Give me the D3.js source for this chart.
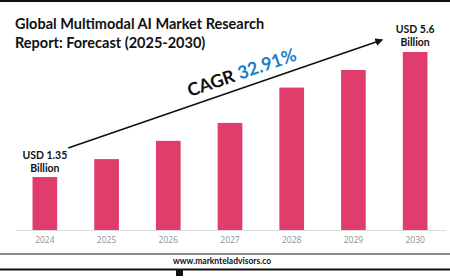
<!DOCTYPE html>
<html>
<head>
<meta charset="utf-8">
<script src="https://cdn.jsdelivr.net/npm/d3@7"></script>
<style>
  body { margin: 0; background: #fff; }
  svg { display: block; }
</style>
</head>
<body>
<div id="chart"></div>
<script>
// chart data
var years = ["2024", "2025", "2026", "2027", "2028", "2029", "2030"];
var marketSize = [1.35, 1.96, 2.58, 3.19, 4.39, 4.99, 5.6];   // USD billion (bars)
var titleLines = ["Global Multimodal AI Market Research", "Report: Forecast (2025-2030)"];
var startLabel = ["USD 1.35", "Billion"];
var endLabel = ["USD 5.6", "Billion"];
var cagrText = "CAGR";
var cagrValue = "32.91%";
var siteText = "www.marknteladvisors.co";

var width = 450, height = 280;
var barColor = "#e03d6d";
var titleFont = "'Lato', 'Open Sans', sans-serif";

var svg = d3.select("#chart").append("svg")
    .attr("width", width)
    .attr("height", height);

// top rule
svg.append("rect").attr("x", 0).attr("y", 0).attr("width", width).attr("height", 2).attr("fill", "#111");

// title
svg.append("text")
    .attr("x", 15).attr("y", 29)
    .style("font-family", titleFont).style("font-weight", 700).style("font-size", "14.5px")
    .attr("fill", "#111")
    .selectAll("tspan")
    .data(titleLines)
    .enter()
    .append("tspan")
    .attr("x", 15)
    .attr("dy", function(d, i) { return i === 0 ? 0 : 19; })
    .text(function(d) { return d; });

// scales
var x = d3.scaleBand()
    .domain(years)
    .range([14, 446])
    .paddingInner(0.6)
    .paddingOuter(0.3);

// baseline of the bars is not at zero in the source graphic
var y = d3.scaleLinear()
    .domain([-0.45, 5.6])
    .range([230, 52]);

// bars
svg.selectAll(".bar")
    .data(marketSize)
    .enter()
    .append("rect")
    .attr("class", "bar")
    .attr("x", function(d, i) { return x(years[i]); })
    .attr("y", function(d) { return y(d); })
    .attr("width", x.bandwidth())
    .attr("height", function(d) { return y.range()[0] - y(d); })
    .attr("fill", barColor);

// x axis
var xAxis = svg.append("g")
    .attr("transform", "translate(0," + y.range()[0] + ")")
    .call(d3.axisBottom(x).tickSize(0).tickPadding(7));
xAxis.select(".domain").attr("stroke", "#dcdcdc").attr("d", "M16,0.5H446");
xAxis.selectAll("text")
    .style("font-family", "'Open Sans', sans-serif")
    .style("font-size", "8.5px")
    .attr("fill", "#8f8f8f");

// value labels at both ends
function endText(lines, cx, baseY) {
    svg.append("text")
        .attr("text-anchor", "middle")
        .style("font-family", titleFont).style("font-weight", 700).style("font-size", "10.5px")
        .attr("fill", "#111")
        .selectAll("tspan")
        .data(lines)
        .enter()
        .append("tspan")
        .attr("x", cx)
        .attr("y", function(d, i) { return baseY + i * 13; })
        .text(function(d) { return d; });
}
var first = years[0], last = years[years.length - 1];
endText(startLabel, x(first) + x.bandwidth() / 2, y(marketSize[0]) - 18);
endText(endLabel, x(last) + x.bandwidth() / 2, y(marketSize[marketSize.length - 1]) - 19);

// CAGR arrow
svg.append("defs").append("marker")
    .attr("id", "arrow")
    .attr("viewBox", "0 0 10 10")
    .attr("refX", 8).attr("refY", 5)
    .attr("markerWidth", 5).attr("markerHeight", 5)
    .attr("orient", "auto")
    .append("path")
    .attr("d", "M0,0L10,5L0,10z")
    .attr("fill", "#111");

var ax1 = x(first) + x.bandwidth() + 11, ay1 = y(marketSize[0]) - 29;
var ax2 = x(last) - 21, ay2 = y(marketSize[marketSize.length - 1]) - 12;
svg.append("line")
    .attr("x1", ax1).attr("y1", ay1)
    .attr("x2", ax2).attr("y2", ay2)
    .attr("stroke", "#111").attr("stroke-width", 1.6)
    .attr("marker-end", "url(#arrow)");

var angle = Math.atan2(ay2 - ay1, ax2 - ax1) * 180 / Math.PI;
var cagr = svg.append("text")
    .attr("transform", "translate(190,97) rotate(" + angle + ")")
    .style("font-family", titleFont).style("font-weight", 700).style("font-size", "18px");
cagr.append("tspan").attr("fill", "#111").text(cagrText + " ");
cagr.append("tspan").attr("fill", "#1b80c8").text(cagrValue);

// footer
svg.append("rect").attr("x", 0).attr("y", 253).attr("width", width).attr("height", 2).attr("fill", "#8c8c8c");
svg.append("text")
    .attr("x", 222).attr("y", 264)
    .attr("text-anchor", "middle")
    .style("font-family", titleFont).style("font-weight", 700).style("font-size", "8.5px")
    .attr("fill", "#111")
    .text(siteText);
svg.append("rect").attr("x", 0).attr("y", 268.5).attr("width", width).attr("height", 2).attr("fill", "#111");
svg.append("rect").attr("x", 176).attr("y", 270).attr("width", 7).attr("height", 6).attr("fill", "#111");
</script>
</body>
</html>
